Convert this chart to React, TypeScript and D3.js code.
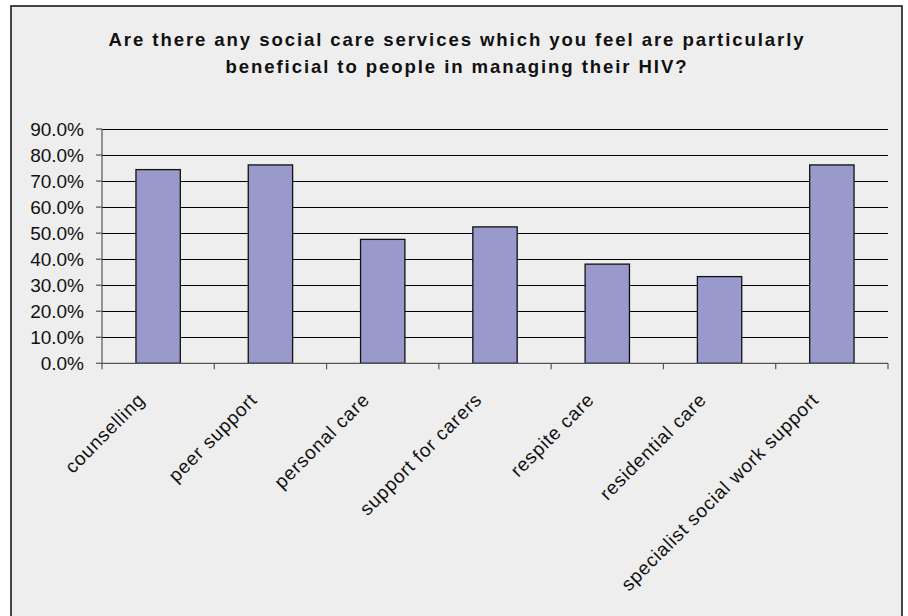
import React from "react";
import * as d3 from "d3";

const categories = [
  "counselling",
  "peer support",
  "personal care",
  "support for carers",
  "respite care",
  "residential care",
  "specialist social work support",
];
const values = [74.4, 76.2, 47.6, 52.4, 38.1, 33.3, 76.2];
const yTicks = [0, 10, 20, 30, 40, 50, 60, 70, 80, 90];
const titleLines = [
  "Are there any social care services which you feel are particularly",
  "beneficial to people in managing their HIV?",
];

const W = 908;
const H = 616;
const plot = { left: 102, right: 888, top: 129, bottom: 363.3 };

export default function App() {
  const x = d3
    .scaleBand<string>()
    .domain(categories)
    .range([plot.left, plot.right])
    .padding(0);
  const y = d3.scaleLinear().domain([0, 90]).range([plot.bottom, plot.top]);
  const bw = x.bandwidth() * 0.395;
  const font = "'Liberation Sans', Arial, sans-serif";

  const boundaries = categories.map((c) => (x(c) as number) + x.bandwidth());

  return (
    <svg
      width={W}
      height={H}
      style={{ position: "absolute", left: 0, top: 0, background: "#ffffff" }}
      fontFamily={font}
    >
      <rect x={11} y={6} width={891} height={620} fill="#eeeeee" stroke="#1a1a1a" strokeWidth={1.6} />

      {titleLines.map((t, i) => (
        <text
          key={i}
          x={457}
          y={45.5 + i * 27.5}
          textAnchor="middle"
          fontSize={18.6}
          fontWeight="bold"
          letterSpacing={1.9}
          fill="#111"
        >
          {t}
        </text>
      ))}

      {/* gridlines */}
      {yTicks
        .filter((t) => t > 0)
        .map((t) => (
          <line
            key={t}
            x1={plot.left}
            x2={plot.right}
            y1={Math.round(y(t)) + 0.5}
            y2={Math.round(y(t)) + 0.5}
            stroke="#000"
            strokeWidth={1}
          />
        ))}

      {/* bars */}
      {categories.map((c, i) => {
        const cx = (x(c) as number) + x.bandwidth() / 2;
        return (
          <rect
            key={c}
            x={cx - bw / 2}
            y={y(values[i])}
            width={bw}
            height={y(0) - y(values[i])}
            fill="#9999cc"
            stroke="#111"
            strokeWidth={1.3}
          />
        );
      })}

      {/* y axis */}
      <line x1={plot.left} x2={plot.left} y1={plot.top} y2={plot.bottom + 6} stroke="#555" strokeWidth={1.2} />
      {yTicks.map((t) => (
        <g key={t}>
          <line x1={plot.left - 6} x2={plot.left} y1={y(t)} y2={y(t)} stroke="#555" strokeWidth={1.2} />
          <text x={84} y={y(t) + 6.5} textAnchor="end" fontSize={19} fill="#111">
            {t.toFixed(1) + "%"}
          </text>
        </g>
      ))}

      {/* x axis */}
      <line x1={plot.left} x2={plot.right} y1={plot.bottom} y2={plot.bottom} stroke="#555" strokeWidth={1.2} />
      {boundaries.map((b, i) => (
        <line key={i} x1={b} x2={b} y1={plot.bottom} y2={plot.bottom + 6} stroke="#555" strokeWidth={1.2} />
      ))}
      {categories.map((c) => {
        const cx = (x(c) as number) + x.bandwidth() / 2;
        const ax = cx - 12;
        const ay = 401;
        return (
          <text
            key={c}
            x={ax}
            y={ay}
            textAnchor="end"
            fontSize={19}
            letterSpacing={0.8}
            fill="#111"
            transform={`rotate(-45, ${ax}, ${ay})`}
          >
            {c}
          </text>
        );
      })}
    </svg>
  );
}
